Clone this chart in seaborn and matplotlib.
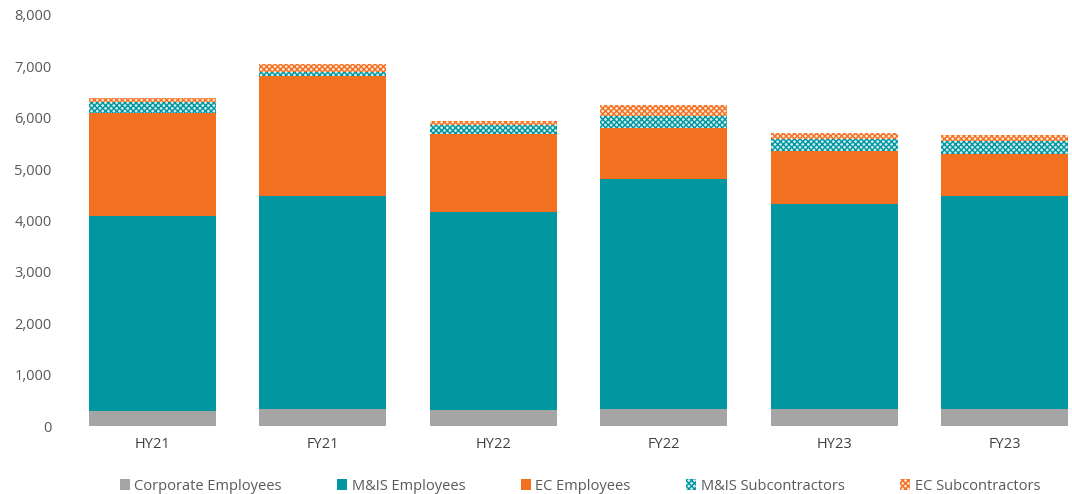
import matplotlib
matplotlib.use("Agg")
import matplotlib.pyplot as plt
import seaborn as sns
import pandas as pd
import numpy as np
from matplotlib.patches import Patch

periods = ["HY21", "FY21", "HY22", "FY22", "HY23", "FY23"]
corporate_employees = [300, 340, 320, 330, 330, 330]
mis_employees = [3780, 4140, 3850, 4475, 3995, 4145]
ec_employees = [2015, 2330, 1505, 1000, 1025, 823]
mis_subcontractors = [215, 85, 187, 226, 228, 241]
ec_subcontractors = [77, 150, 72, 214, 128, 128]

series_names = ["Corporate Employees", "M&IS Employees", "EC Employees",
                "M&IS Subcontractors", "EC Subcontractors"]
series_vals = [corporate_employees, mis_employees, ec_employees,
               mis_subcontractors, ec_subcontractors]

GREY = "#A5A5A5"
TEAL = "#0097A0"
ORANGE = "#F37021"
face = [GREY, TEAL, ORANGE, "#CFEBED", "#FCE3D3"]
hatch_col = [GREY, TEAL, ORANGE, TEAL, ORANGE]
hatches = [None, None, None, "xxxxxx", "xxxxxx"]

sns.set_theme(style="white")
plt.rcParams["font.family"] = ["Open Sans", "DejaVu Sans"]
plt.rcParams["hatch.linewidth"] = 1.0

fig = plt.figure(figsize=(10.72, 4.94), dpi=100)
ax = fig.add_axes([67 / 1072, 68 / 494, (1090 - 67) / 1072, (479 - 68) / 494])

cum = np.cumsum(np.array(series_vals), axis=0)
for i in range(len(series_names) - 1, -1, -1):
    df = pd.DataFrame({"period": periods, "value": cum[i]})
    sns.barplot(data=df, x="period", y="value", order=periods, color=face[i],
                saturation=1, width=0.745, ax=ax, errorbar=None)
    for p in ax.patches[-len(periods):]:
        p.set_facecolor(face[i])
        p.set_edgecolor(hatch_col[i])
        p.set_linewidth(0)
        if hatches[i]:
            p.set_hatch(hatches[i])

ax.set_xlim(-0.5, 5.5)
ax.set_ylim(0, 8000)
ax.set_yticks(np.arange(0, 8001, 1000))
ax.set_yticklabels([f"{v:,}" for v in range(0, 8001, 1000)])
ax.set_xlabel("")
ax.set_ylabel("")
for s in ax.spines.values():
    s.set_visible(False)
ax.tick_params(axis="y", colors="#595959", labelsize=10.5, length=0, pad=11)
ax.tick_params(axis="x", colors="#404040", labelsize=10.5, length=0, pad=8)

handles = []
for i, name in enumerate(series_names):
    handles.append(Patch(facecolor=face[i], edgecolor=hatch_col[i], linewidth=0,
                         hatch=hatches[i], label=name))
fig.legend(handles=handles, loc="center", bbox_to_anchor=(0.541, 1 - 486 / 494),
           ncol=5, frameon=False, fontsize=10.5, handlelength=0.7, handleheight=0.7,
           handletextpad=0.3, columnspacing=3.8, labelcolor="#595959")

fig.savefig("out.png", dpi=100)
